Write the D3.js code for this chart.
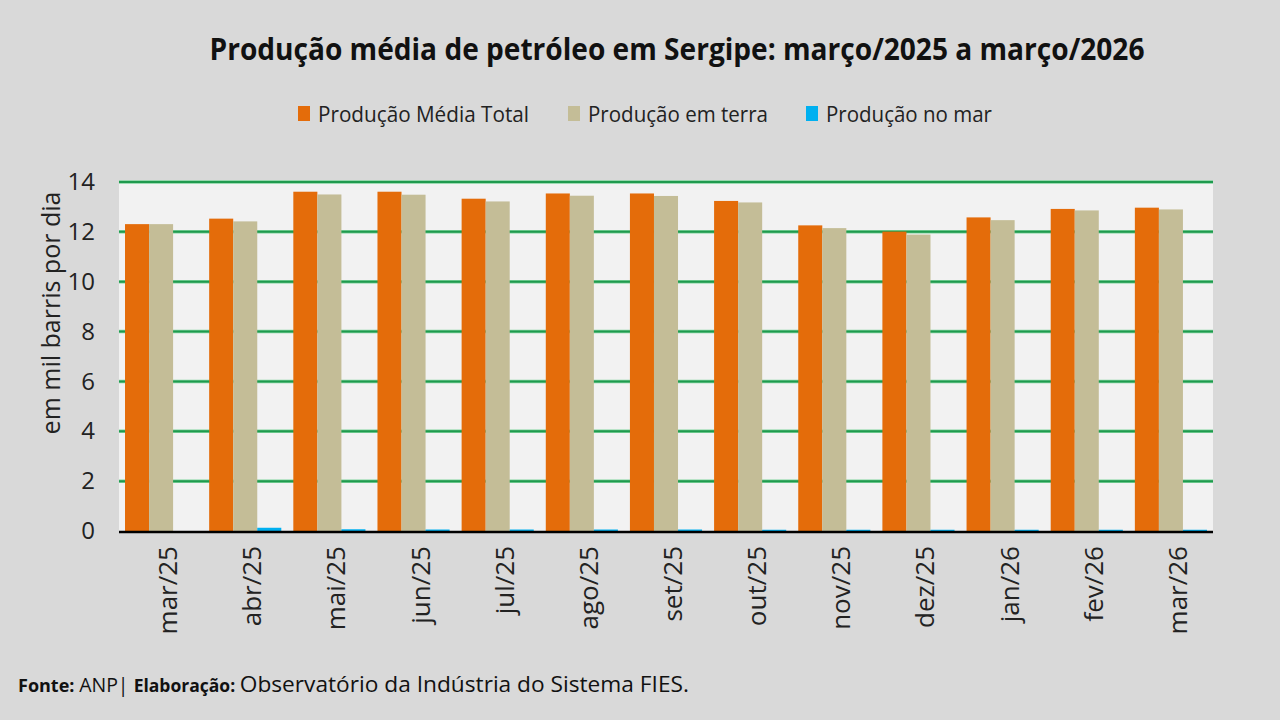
<!DOCTYPE html>
<html>
<head>
<meta charset="utf-8">
<script src="https://cdn.jsdelivr.net/npm/d3@7"></script>
<style>
  body { margin: 0; background: #d9d9d9; }
  svg { display: block; font-family: "Open Sans", "Noto Sans", sans-serif; }
</style>
</head>
<body>
<svg id="chart" width="1280" height="720"></svg>
<script>
// data (mil barris por dia)
var months = ["mar/25", "abr/25", "mai/25", "jun/25", "jul/25", "ago/25", "set/25",
              "out/25", "nov/25", "dez/25", "jan/26", "fev/26", "mar/26"];
var total = [12.31, 12.53, 13.61, 13.61, 13.33, 13.54, 13.54, 13.24, 12.26, 12.01, 12.58, 12.92, 12.97];
var terra = [12.31, 12.42, 13.50, 13.49, 13.22, 13.45, 13.44, 13.18, 12.15, 11.89, 12.47, 12.86, 12.90];
var mar = [0.00, 0.13, 0.07, 0.06, 0.06, 0.06, 0.06, 0.05, 0.05, 0.05, 0.05, 0.05, 0.05];
var seriesNames = ["Produção Média Total", "Produção em terra", "Produção no mar"];
var yTicks = [0, 2, 4, 6, 8, 10, 12, 14];

var colors = ["#e46c0a", "#c4bd97", "#00b0f0"];

var svg = d3.select("#chart");

var plotLeft = 119, plotRight = 1213, plotTop = 182, plotBottom = 531;

var x = d3.scaleBand().domain(months).range([plotLeft, plotRight]).padding(0);
var x1 = d3.scaleBand().domain(d3.range(3)).range([0, x.bandwidth()])
     .paddingInner(0).paddingOuter(0.25);
var y = d3.scaleLinear().domain([0, 14]).range([plotBottom, plotTop]);

// plot background
svg.append("rect")
     .attr("x", plotLeft).attr("y", plotTop - 1)
     .attr("width", plotRight - plotLeft).attr("height", plotBottom - plotTop + 1)
     .attr("fill", "#f2f2f2");

// gridlines
var grid = svg.append("g");
yTicks.filter(d => d > 0).forEach(function (t) {
     grid.append("line")
          .attr("x1", plotLeft).attr("x2", plotRight)
          .attr("y1", y(t)).attr("y2", y(t))
          .attr("stroke", "#7fd39c").attr("stroke-width", 3.5);
     grid.append("line")
          .attr("x1", plotLeft).attr("x2", plotRight)
          .attr("y1", y(t)).attr("y2", y(t))
          .attr("stroke", "#1f9a4e").attr("stroke-width", 2);
});

// bars
var rows = months.map(function (m, i) {
     return { month: m, values: [total[i], terra[i], mar[i]] };
});

var groups = svg.append("g").selectAll("g")
     .data(rows)
     .join("g")
     .attr("transform", d => `translate(${x(d.month)},0)`);

groups.selectAll("rect")
     .data(d => d.values.map((v, k) => ({ k: k, v: v })))
     .join("rect")
     .attr("x", d => x1(d.k))
     .attr("width", x1.bandwidth())
     .attr("y", d => y(d.v))
     .attr("height", d => plotBottom - y(d.v))
     .attr("fill", d => colors[d.k]);

// x axis line
svg.append("line")
     .attr("x1", plotLeft).attr("x2", plotRight)
     .attr("y1", plotBottom + 1).attr("y2", plotBottom + 1)
     .attr("stroke", "#000").attr("stroke-width", 2.5);

// y axis labels
var yAxis = d3.axisLeft(y).tickValues(yTicks).tickSize(0).tickPadding(0);
var yg = svg.append("g")
     .attr("transform", `translate(${plotLeft - 24},0)`)
     .call(yAxis);
yg.select(".domain").remove();
yg.selectAll("text")
     .attr("font-family", "Open Sans, sans-serif")
     .attr("font-size", 24)
     .attr("fill", "#222");

// x axis labels
var xAxis = d3.axisBottom(x).tickSize(0);
var xg = svg.append("g")
     .attr("transform", `translate(0,${plotBottom})`)
     .call(xAxis);
xg.select(".domain").remove();
xg.selectAll("text")
     .attr("font-family", "Open Sans, sans-serif")
     .attr("font-size", 26)
     .attr("fill", "#222")
     .attr("text-anchor", "end")
     .attr("dy", null)
     .attr("y", null)
     .attr("dominant-baseline", "central")
     .attr("transform", "translate(6,15) rotate(-90)");

// y title
svg.append("text")
     .attr("transform", "translate(50,313) rotate(-90)")
     .attr("text-anchor", "middle")
     .attr("dominant-baseline", "central")
     .attr("font-size", 25)
     .attr("fill", "#222")
     .text("em mil barris por dia");

// title
svg.append("text")
     .attr("x", 677).attr("y", 60)
     .attr("text-anchor", "middle")
     .attr("font-size", 31)
     .attr("font-weight", "bold")
     .attr("fill", "#111")
     .attr("textLength", 935)
     .attr("lengthAdjust", "spacingAndGlyphs")
     .text("Produção média de petróleo em Sergipe: março/2025 a março/2026");

// legend
var legendX = [298, 568, 806];
var legendW = [211, 180, 166];
var legend = svg.append("g");
seriesNames.forEach(function (name, k) {
     legend.append("rect")
          .attr("x", legendX[k]).attr("y", 106)
          .attr("width", 12).attr("height", 15)
          .attr("fill", colors[k]);
     legend.append("text")
          .attr("x", legendX[k] + 20).attr("y", 122)
          .attr("font-size", 22)
          .attr("fill", "#222")
          .attr("textLength", legendW[k])
          .attr("lengthAdjust", "spacingAndGlyphs")
          .text(name);
});

// footer
var foot = svg.append("text")
     .attr("x", 18).attr("y", 692)
     .attr("fill", "#111");
foot.append("tspan").attr("font-weight", "bold").attr("font-size", 18).text("Fonte: ");
foot.append("tspan").attr("font-size", 19.5).text("ANP| ");
foot.append("tspan").attr("font-weight", "bold").attr("font-size", 17.5).text("Elaboração: ");
foot.append("tspan").attr("font-size", 22.7).text("Observatório da Indústria do Sistema FIES.");
</script>
</body>
</html>
